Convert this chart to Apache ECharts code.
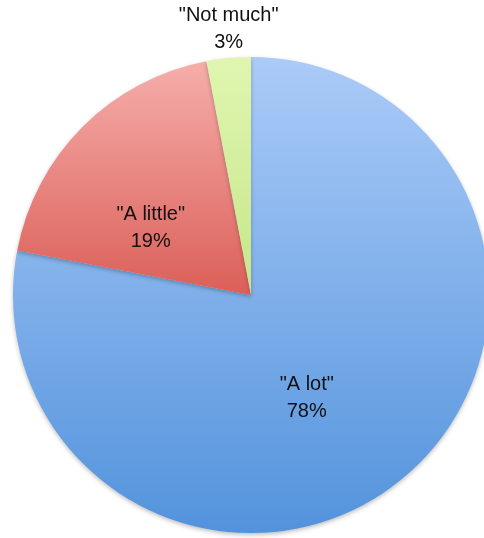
<!DOCTYPE html>
<html><head><meta charset="utf-8">
<script src="https://cdn.jsdelivr.net/npm/echarts@6/dist/echarts.min.js"></script>
<style>html,body{margin:0;padding:0;background:#fff;}#c{width:484px;height:538px;}</style>
</head><body><div id="c"></div>
<script>
var categories = ['"A lot"', '"A little"', '"Not much"'];
var values = [78, 19, 3];
var colorsTop = ['#abcbf8', '#f6aeab', '#e0f6b0'];
var colorsBottom = ['#5393dc', '#db5f58', '#c6e68a'];
// label nudges (px) relative to ECharts default label placement
var labelShift = [[-22, 9], [-14, 19], [0, 0]];

var chart = echarts.init(document.getElementById('c'));
var data = categories.map(function (c, i) {
  return {
    name: c, value: values[i],
    itemStyle: {
      color: {
        type: 'linear', x: 0, y: 0, x2: 0, y2: 1,
        colorStops: [{offset: 0, color: colorsTop[i]}, {offset: 1, color: colorsBottom[i]}]
      }
    },
    label: i === 2 ? {position: 'outside', distance: 8} : {position: 'inside'}
  };
});
chart.setOption({
  animation: false,
  series: [{
    type: 'pie',
    center: [251, 295],
    radius: 238,
    startAngle: 90,
    clockwise: true,
    data: data,
    itemStyle: {borderWidth: 0, shadowBlur: 4, shadowOffsetY: 2, shadowColor: 'rgba(0,0,0,0.25)'},
    labelLine: {show: false, length: 6, length2: 0},
    label: {
      formatter: function (p) { return p.name + '\n' + p.value + '%'; },
      fontFamily: 'Liberation Sans',
      fontSize: 20,
      lineHeight: 27,
      color: '#111',
      align: 'center'
    },
    labelLayout: function (p) {
      if (p.dataIndex === 2) {
        return {x: p.rect.x + p.rect.width / 2, y: 29, align: 'center', verticalAlign: 'middle'};
      }
      var s = labelShift[p.dataIndex];
      return {dx: s[0], dy: s[1]};
    }
  }]
});
</script></body></html>
